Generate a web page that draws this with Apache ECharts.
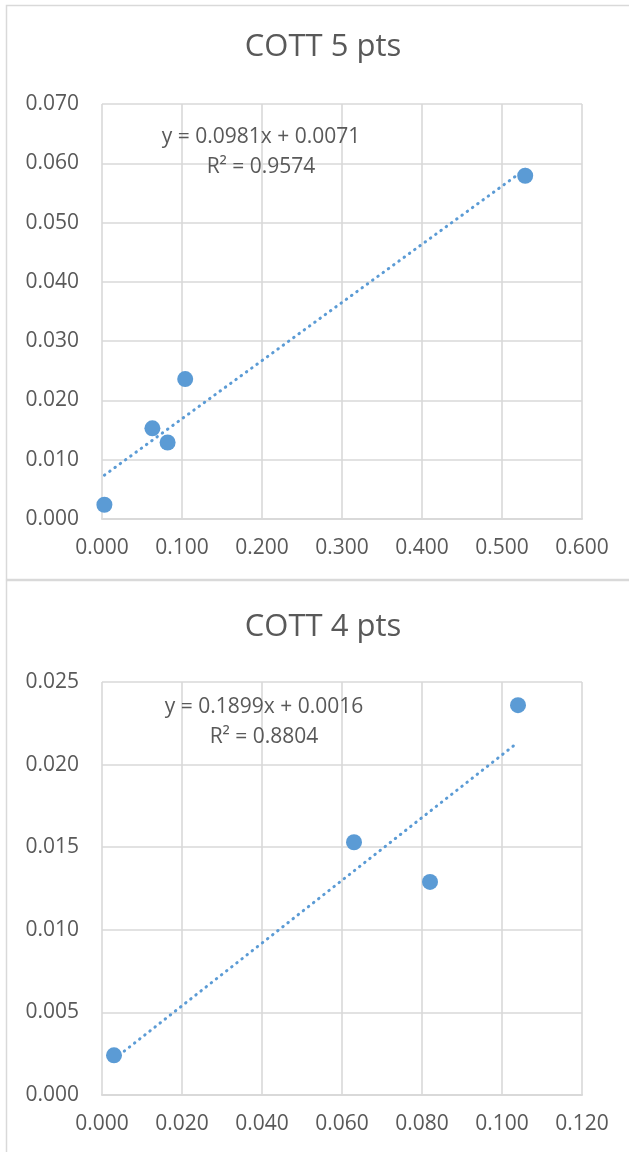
<!DOCTYPE html>
<html>
<head>
<meta charset="utf-8">
<script src="https://cdn.jsdelivr.net/npm/echarts@6/dist/echarts.min.js"></script>
<style>
html,body{margin:0;padding:0;background:#fff;}
#chart{width:629px;height:1152px;}
</style>
</head>
<body>
<div id="chart"></div>
<script>
// Data
var titles = ['COTT 5 pts', 'COTT 4 pts'];
var xValues5 = [0.003, 0.063, 0.082, 0.104, 0.529];
var yValues5 = [0.0024, 0.0153, 0.0129, 0.0236, 0.0579];
var xValues4 = [0.003, 0.063, 0.082, 0.104];
var yValues4 = [0.0024, 0.0153, 0.0129, 0.0236];
var slopes = [0.0981, 0.1899];
var intercepts = [0.0071, 0.0016];
var r2Values = [0.9574, 0.8804];
var yMax = [0.070, 0.025];
var yStep = [0.010, 0.005];
var xMax = [0.600, 0.120];
var xStep = [0.100, 0.020];

var BLUE = '#5b9bd5';
var TXT = '#595959';
var GRID = '#d9d9d9';
var FONT = 'Open Sans';

function pts(xs, ys){ return xs.map(function(x,i){ return [x, ys[i]]; }); }
function trend(xs, k){
  var lo = Math.min.apply(null, xs), hi = Math.max.apply(null, xs);
  return [[lo, slopes[k]*lo + intercepts[k]], [hi, slopes[k]*hi + intercepts[k]]];
}

var grids = [
  {left: 102, top: 104, width: 480, height: 415},
  {left: 102, top: 682, width: 480, height: 413}
];

function xAxis(k){
  return {
    type: 'value', gridIndex: k, min: 0, max: xMax[k], interval: xStep[k],
    axisLine: {show: true, lineStyle: {color: GRID, width: 2}},
    axisTick: {show: false},
    splitLine: {show: true, lineStyle: {color: GRID, width: 1.6}},
    axisLabel: {color: TXT, fontFamily: FONT, fontSize: 21, margin: 19,
      formatter: function(v){ return v.toFixed(3); }}
  };
}
function yAxis(k){
  return {
    type: 'value', gridIndex: k, min: 0, max: yMax[k], interval: yStep[k],
    axisLine: {show: false},
    axisTick: {show: false},
    splitLine: {show: true, lineStyle: {color: GRID, width: 1.6}},
    axisLabel: {color: TXT, fontFamily: FONT, fontSize: 21, margin: 23,
      formatter: function(v){ return v.toFixed(3); }}
  };
}

function eqText(k){ return 'y = ' + slopes[k].toFixed(4) + 'x + ' + intercepts[k].toFixed(4) + '\nR² = ' + r2Values[k].toFixed(4); }

var chart = echarts.init(document.getElementById('chart'), null, {renderer: 'canvas'});
chart.setOption({
  animation: false,
  backgroundColor: '#fff',
  graphic: [
    {type: 'rect', shape: {x: 6.5, y: 5.5, width: 640, height: 574}, style: {fill: 'none', stroke: GRID, lineWidth: 1.5}, z: -1},
    {type: 'rect', shape: {x: 6.5, y: 580.5, width: 640, height: 600}, style: {fill: 'none', stroke: GRID, lineWidth: 1.5}, z: -1},
    {type: 'text', x: 323, y: 47, style: {text: titles[0], fill: TXT, font: '31px "Open Sans"', textAlign: 'center', textVerticalAlign: 'middle'}, z: 10},
    {type: 'text', x: 323, y: 627, style: {text: titles[1], fill: TXT, font: '31px "Open Sans"', textAlign: 'center', textVerticalAlign: 'middle'}, z: 10},
    {type: 'text', x: 261, y: 152, style: {text: eqText(0), fill: TXT, font: '21px "Open Sans"', textAlign: 'center', textVerticalAlign: 'middle', lineHeight: 30}, z: 10},
    {type: 'text', x: 264, y: 722, style: {text: eqText(1), fill: TXT, font: '21px "Open Sans"', textAlign: 'center', textVerticalAlign: 'middle', lineHeight: 30}, z: 10}
  ],
  grid: grids,
  xAxis: [xAxis(0), xAxis(1)],
  yAxis: [yAxis(0), yAxis(1)],
  series: [
    {type: 'line', xAxisIndex: 0, yAxisIndex: 0, data: trend(xValues5, 0), symbol: 'none',
      lineStyle: {color: BLUE, width: 3, type: [0.5, 6], cap: 'round'}, z: 2},
    {type: 'scatter', xAxisIndex: 0, yAxisIndex: 0, data: pts(xValues5, yValues5), symbolSize: 16,
      itemStyle: {color: BLUE, opacity: 1}, z: 3},
    {type: 'line', xAxisIndex: 1, yAxisIndex: 1, data: trend(xValues4, 1), symbol: 'none',
      lineStyle: {color: BLUE, width: 3, type: [0.5, 6], cap: 'round'}, z: 2},
    {type: 'scatter', xAxisIndex: 1, yAxisIndex: 1, data: pts(xValues4, yValues4), symbolSize: 16,
      itemStyle: {color: BLUE, opacity: 1}, z: 3}
  ]
});
</script>
</body>
</html>
